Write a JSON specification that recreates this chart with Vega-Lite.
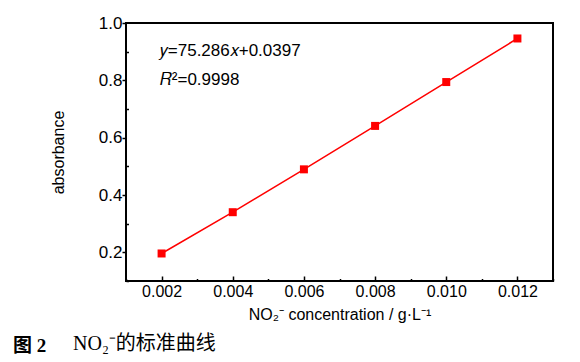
{
  "$schema": "https://vega.github.io/schema/vega-lite/v6.json",
  "width": 427,
  "height": 258,
  "autosize": "none",
  "padding": {"left": 126, "top": 23, "right": 27, "bottom": 81},
  "background": "white",
  "config": {
    "view": {"stroke": "black", "strokeWidth": 2},
    "font": "Liberation Sans"
  },
  "title": {
    "text": "图 2",
    "subtitle": "​　　　NO₂⁻的标准曲线",
    "orient": "bottom",
    "anchor": "start",
    "frame": "group",
    "align": "left",
    "dx": -113,
    "offset": 15,
    "font": "Liberation Serif, Noto Sans CJK SC",
    "fontSize": 19,
    "fontWeight": "bold",
    "color": "black",
    "subtitleFont": "Liberation Serif, Noto Sans CJK SC",
    "subtitleFontSize": 20,
    "subtitleColor": "black",
    "subtitlePadding": -22
  },
  "data": {
    "values": [
      {"c": 0.002, "a": 0.196},
      {"c": 0.004, "a": 0.340},
      {"c": 0.006, "a": 0.4895},
      {"c": 0.008, "a": 0.641},
      {"c": 0.010, "a": 0.794},
      {"c": 0.012, "a": 0.946}
    ]
  },
  "encoding": {
    "x": {
      "field": "c",
      "type": "quantitative",
      "scale": {"domain": [0.001, 0.013], "nice": false, "zero": false},
      "axis": {
        "values": [0.001, 0.002, 0.003, 0.004, 0.005, 0.006, 0.007, 0.008, 0.009, 0.010, 0.011, 0.012, 0.013],
        "labelExpr": "round(datum.value*1000)%2==0 ? format(datum.value,'.3f') : ''",
        "grid": false,
        "domain": false,
        "tickColor": "black",
        "tickWidth": 1.5,
        "tickSize": {"condition": {"test": "round(datum.value*1000)%2==0", "value": -5}, "value": -2.5},
        "labelPadding": 7,
        "labelFont": "Liberation Sans",
        "labelFontSize": 16,
        "labelColor": "black",
        "title": "NO₂⁻ concentration / g·L⁻¹",
        "titleFont": "Liberation Sans",
        "titleFontSize": 16,
        "titleFontWeight": "normal",
        "titleColor": "black",
        "titlePadding": 7
      }
    },
    "y": {
      "field": "a",
      "type": "quantitative",
      "scale": {"domain": [0.1, 1.0], "nice": false, "zero": false},
      "axis": {
        "values": [0.1, 0.2, 0.3, 0.4, 0.5, 0.6, 0.7, 0.8, 0.9, 1.0],
        "labelExpr": "round(datum.value*10)%2==0 ? format(datum.value,'.1f') : ''",
        "grid": false,
        "domain": false,
        "tickColor": "black",
        "tickWidth": 1.5,
        "tickSize": {"condition": {"test": "round(datum.value*10)%2==0", "value": 4}, "value": -2.5},
        "labelPadding": 0,
        "labelFont": "Liberation Sans",
        "labelFontSize": 17,
        "labelColor": "black",
        "title": "absorbance",
        "titleFont": "Liberation Sans",
        "titleFontSize": 16,
        "titleFontWeight": "normal",
        "titleColor": "black",
        "titlePadding": 32
      }
    }
  },
  "layer": [
    {"mark": {"type": "line", "color": "#ff0000", "strokeWidth": 1.5}},
    {"mark": {"type": "square", "color": "#ff0000", "size": 64, "opacity": 1, "filled": true}},
    {
      "data": {
        "values": [
          {"c": 0.00195, "a": 0.904, "t": "𝑦=75.286𝑥+0.0397"},
          {"c": 0.00195, "a": 0.802, "t": "𝑅²=0.9998"}
        ]
      },
      "mark": {"type": "text", "align": "left", "baseline": "middle", "font": "Liberation Sans", "fontSize": 17, "color": "black"},
      "encoding": {"text": {"field": "t"}}
    }
  ]
}
